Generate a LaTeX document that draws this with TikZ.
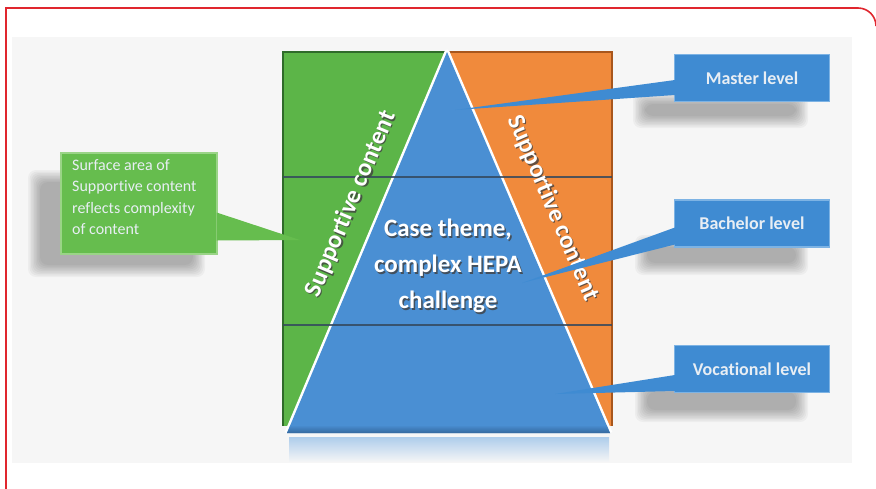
\documentclass[tikz,border=0pt]{standalone}
\usepackage{fontspec}
\setmainfont{Carlito}[Ligatures=NoCommon]
\usetikzlibrary{calc}
\definecolor{frameRed}{HTML}{E0262E}
\definecolor{bgGray}{HTML}{F6F6F6}
\definecolor{rectGreen}{HTML}{5CB548}
\definecolor{rectGreenD}{HTML}{2F6B2A}
\definecolor{rectOrange}{HTML}{F08A3C}
\definecolor{rectOrangeD}{HTML}{A8561C}
\definecolor{triBlue}{HTML}{4A8FD3}
\definecolor{triBlueD}{HTML}{34689E}
\definecolor{boxBlue}{HTML}{3F8BD2}
\definecolor{boxBlueL}{HTML}{7DB3E4}
\definecolor{boxGreen}{HTML}{66BD4E}
\definecolor{boxGreenL}{HTML}{9AD487}
\definecolor{boxText}{HTML}{E8EEF4}
\definecolor{bandLine}{HTML}{34495E}
\newcommand\mysoftshadow[4]{%
  \foreach \i in {0,...,8}{%
    \fill[black,opacity=0.035,rounded corners=8]
      ({#1+\i*1.5},{#2+\i*1.5}) rectangle ({#3-\i*1.5},{#4-\i*1.5});}}
\tikzset{
  bluebox/.style={fill=boxBlue, draw=boxBlueL, line width=1.2pt,
    minimum width=155pt, minimum height=47pt, inner sep=0pt,
    text=boxText, font=\bfseries\fontsize{18}{20}\selectfont},
  greenbox/.style={fill=boxGreen, draw=boxGreenL, line width=1.2pt,
    minimum width=156pt, minimum height=101pt, inner sep=0pt},
  wedgeblue/.style={fill=boxBlue},
  wedgegreen/.style={fill=boxGreen},
  bigfont/.style={font=\bfseries\fontsize{25}{36}\selectfont},
  bigshadowtext/.style={bigfont, text=black!75, opacity=0.8},
  bigtext/.style={bigfont, text=white},
}
\begin{document}
\begin{tikzpicture}[x=1pt,y=-1pt]
\useasboundingbox (0,0) rectangle (876,488);
% background
\fill[white] (0,0) rectangle (876,488);
\fill[bgGray] (12,37) rectangle (852,463);
% red frame
\draw[frameRed, line width=1.6pt] (6,500) -- (6,8) -- (858,8)
  arc[start angle=270, end angle=360, radius=18];

% shadows of callouts
\mysoftshadow{633}{92}{808}{128}
\mysoftshadow{635}{235}{808}{275}
\mysoftshadow{635}{380}{808}{422}
\mysoftshadow{28}{170}{205}{277}

% supportive rectangles
\coordinate (apex) at (447,52);
\coordinate (bl) at (287,433);
\coordinate (br) at (610,433);
\fill[rectGreen] (283,52) rectangle (447,426);
\fill[rectOrange] (447,52) rectangle (612,426);
\draw[rectGreenD, line width=1.6pt] (447,52) -- (283,52) -- (283,426);
\draw[rectOrangeD, line width=1.4pt] (447,52) -- (612,52) -- (612,426);

% reflection under triangle
\shade[top color=triBlue!45, bottom color=bgGray] (289,437) rectangle (609,462);

% triangle
\draw[white, line width=5pt, line join=round] (bl) -- (apex) -- (br);
\fill[triBlue] (bl) -- (apex) -- (br) -- cycle;
\shade[top color=triBlue, bottom color=triBlueD]
  ($(bl)+(3.5,-8)$) -- ($(br)+(-3.5,-8)$) -- (br) -- (bl) -- cycle;

% band lines
\draw[bandLine, opacity=0.85, line width=1.2pt] (283,177) -- (612,177);
\draw[bandLine, opacity=0.85, line width=1.2pt] (283,325) -- (612,325);

% rotated labels
\node[bigshadowtext, rotate=67.2] at (352.2,205.2) {Supportive content};
\node[bigtext, rotate=67.2] (supl) at (351,204) {Supportive content};
\node[bigshadowtext, rotate=-66.8] at (554.2,209.2) {Supportive content};
\node[bigtext, rotate=-66.8] (supr) at (553,208) {Supportive content};

% centre text
\node[bigshadowtext, align=center] at (449.4,267.4) {Case theme,\\complex HEPA\\challenge};
\node[bigtext, align=center] (case) at (448,266) {Case theme,\\complex HEPA\\challenge};

% callout tips
\coordinate (mtip) at (455,110);
\coordinate (btip) at (522,283);
\coordinate (vtip) at (555,394);
\coordinate (gtip) at (300,240);

% blue callouts
\node[bluebox] (master) at (752,78) {Master level};
\node[bluebox] (bachelor) at (752,223.5) {Bachelor level};
\node[bluebox] (vocational) at (752,369) {Vocational level};
\fill[wedgeblue] (mtip) -- ($(master.west)+(1,2)$) -- ($(master.west)+(1,17)$) -- cycle;
\fill[wedgeblue] (btip) -- ($(bachelor.west)+(1,4)$) -- ($(bachelor.west)+(1,21)$) -- cycle;
\fill[wedgeblue] (vtip) -- ($(vocational.west)+(1,6)$) -- ($(vocational.west)+(1,22)$) -- cycle;

% green callout
\node[greenbox] (surface) at (139,203.5) {};
\fill[wedgegreen] (gtip) -- ($(surface.east)+(-1,9)$) -- ($(surface.east)+(-1,37)$) -- cycle;
\node[anchor=north west, align=left, text=boxText, inner sep=0pt,
  font=\fontsize{16}{21.5}\selectfont] (surftext) at (72,159)
  {Surface area of\\Supportive content\\reflects complexity\\of content};
\end{tikzpicture}
\end{document}
